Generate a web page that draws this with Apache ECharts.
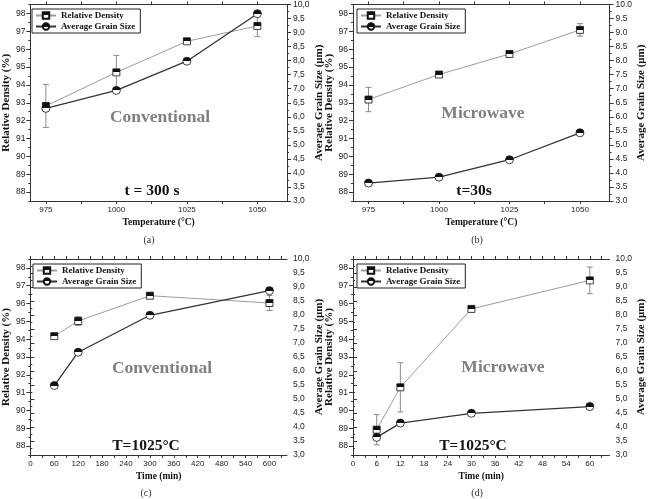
<!DOCTYPE html>
<html>
<head>
<meta charset="utf-8">
<script src="https://cdn.jsdelivr.net/npm/echarts@6/dist/echarts.min.js"></script>
<style>
  html, body { margin: 0; padding: 0; background: #fff; }
  #chart { width: 648px; height: 499px; }
</style>
</head>
<body>
<div id="chart"></div>
<script>
// (a) conventional, t = 300 s
const tempA = [975, 1000, 1025, 1050]
const densityA = [92.82, 94.7, 96.44, 97.3]
const densityErrA = [1.2, 0.95, 0.12, 0.6]
const grainA = [6.3, 6.94, 7.98, 9.67]

// (b) microwave, t = 30 s
const tempB = [975, 1000, 1025, 1050]
const densityB = [93.18, 94.58, 95.73, 97.08]
const densityErrB = [0.68, 0.08, 0.1, 0.35]
const grainB = [3.64, 3.85, 4.47, 5.43]

// (c) conventional, T = 1025 C
const timeC = [60, 120, 300, 600]
const densityC = [94.17, 95.02, 96.44, 96.03]
const densityErrC = [0.1, 0.25, 0.12, 0.42]
const grainC = [5.48, 6.67, 7.99, 8.87]

// (d) microwave, T = 1025 C
const timeD = [6, 12, 30, 60]
const densityD = [88.92, 91.3, 95.7, 97.3]
const densityErrD = [0.85, 1.38, 0.1, 0.75]
const grainD = [3.63, 4.14, 4.49, 4.73]

// tick labels
const tempTicks = [975, 1000, 1025, 1050]
const tempMinor = [987.5, 1012.5, 1037.5]
const timeTicksC = [0, 60, 120, 180, 240, 300, 360, 420, 480, 540, 600]
const timeMinorC = [30, 90, 150, 210, 270, 330, 390, 450, 510, 570, 630]
const timeTicksD = [0, 6, 12, 18, 24, 30, 36, 42, 48, 54, 60]
const timeMinorD = [3, 9, 15, 21, 27, 33, 39, 45, 51, 57, 63]
const densityTicks = [88, 89, 90, 91, 92, 93, 94, 95, 96, 97, 98]

const SERIF = '"Liberation Serif", "Times New Roman", serif'
const SANS = '"Liberation Sans", Arial, sans-serif'

const halfFill = {
  type: 'linear', x: 0, y: 0, x2: 0, y2: 1,
  colorStops: [
    { offset: 0, color: '#111' }, { offset: 0.5, color: '#111' },
    { offset: 0.5, color: '#fff' }, { offset: 1, color: '#fff' }
  ]
}

const panels = [
  { grid: { left: 28, right: 361, top: 4, height: 197 }, x: tempA, dens: densityA, err: densityErrA, grain: grainA,
    xmin: 969.5, xmax: 1060.5, ticks: tempTicks, minor: tempMinor, xname: 'Temperature (°C)', comma: true },
  { grid: { left: 353, right: 38, top: 4, height: 197 }, x: tempB, dens: densityB, err: densityErrB, grain: grainB,
    xmin: 969.5, xmax: 1060.5, ticks: tempTicks, minor: tempMinor, xname: 'Temperature (°C)', comma: false },
  { grid: { left: 29, right: 361, top: 259, height: 196 }, x: timeC, dens: densityC, err: densityErrC, grain: grainC,
    xmin: 0, xmax: 644, ticks: timeTicksC, minor: timeMinorC, xname: 'Time (min)', comma: true },
  { grid: { left: 353, right: 37, top: 259, height: 196 }, x: timeD, dens: densityD, err: densityErrD, grain: grainD,
    xmin: 0, xmax: 65, ticks: timeTicksD, minor: timeMinorD, xname: 'Time (min)', comma: true }
]

const axisLine = { show: true, lineStyle: { color: '#333', width: 1 } }

function errorBars(params, api) {
  const x = api.value(0)
  const y = api.value(1)
  const e = api.value(2)
  const top = api.coord([x, y + e])
  const bot = api.coord([x, y - e])
  const w = 3
  const style = { stroke: '#8a8a8a', lineWidth: 1 }
  return {
    type: 'group',
    children: [
      { type: 'line', shape: { x1: top[0], y1: top[1], x2: bot[0], y2: bot[1] }, style },
      { type: 'line', shape: { x1: top[0] - w, y1: top[1], x2: top[0] + w, y2: top[1] }, style },
      { type: 'line', shape: { x1: bot[0] - w, y1: bot[1], x2: bot[0] + w, y2: bot[1] }, style }
    ]
  }
}

const grids = []
const xAxes = []
const yAxes = []
const series = []
const legends = []

panels.forEach((p, i) => {
  grids.push(p.grid)
  const allTicks = p.ticks.concat(p.minor).filter(v => v >= p.xmin && v <= p.xmax)
  xAxes.push({
    type: 'value', gridIndex: i, position: 'bottom', min: p.xmin, max: p.xmax,
    axisLine, splitLine: { show: false },
    axisTick: { show: true, inside: false, length: 3, customValues: allTicks, lineStyle: { color: '#333' } },
    axisLabel: { customValues: p.ticks, formatter: v => String(v), fontSize: 8, fontFamily: SANS, color: '#222', margin: 5 },
    name: p.xname, nameLocation: 'middle', nameGap: 17,
    nameTextStyle: { fontFamily: SERIF, fontWeight: 'bold', fontSize: 9.5, color: '#111' }
  })
  xAxes.push({
    type: 'value', gridIndex: i, position: 'top', min: p.xmin, max: p.xmax,
    axisLine, splitLine: { show: false },
    axisTick: { show: true, inside: false, length: 3, customValues: allTicks, lineStyle: { color: '#333' } },
    axisLabel: { show: false }
  })
  yAxes.push({
    type: 'value', gridIndex: i, position: 'left', min: 87.5, max: 98.5, interval: 1,
    axisLine, splitLine: { show: false },
    axisTick: { show: true, inside: false, length: 2, lineStyle: { color: '#333' } },
    minorTick: { show: true, splitNumber: 2, length: 4, lineStyle: { color: '#333' } },
    axisLabel: { customValues: densityTicks, fontSize: 8.5, fontFamily: SANS, color: '#222', margin: 5 },
    name: 'Relative Density (%)', nameLocation: 'middle', nameGap: 17, nameRotate: 90,
    nameTextStyle: { fontFamily: SERIF, fontWeight: 'bold', fontSize: 11, color: '#111' }
  })
  yAxes.push({
    type: 'value', gridIndex: i, position: 'right', min: 3, max: 10, interval: 0.5,
    axisLine, splitLine: { show: false },
    axisTick: { show: true, inside: false, length: 4, lineStyle: { color: '#333' } },
    minorTick: { show: true, splitNumber: 2, length: 2, lineStyle: { color: '#333' } },
    axisLabel: {
      fontSize: 8.5, fontFamily: SANS, color: '#222', margin: 6,
      formatter: v => p.comma ? v.toFixed(1).replace('.', ',') : v.toFixed(1)
    },
    name: 'Average Grain Size (μm)', nameLocation: 'middle', nameGap: 22, nameRotate: 90,
    nameTextStyle: { fontFamily: SERIF, fontWeight: 'bold', fontSize: 11, color: '#111' }
  })

  series.push({
    type: 'custom', xAxisIndex: 2 * i, yAxisIndex: 2 * i,
    renderItem: errorBars, encode: { x: 0, y: 1 }, z: 1,
    data: p.x.map((v, k) => [v, p.dens[k], p.err[k]])
  })
  series.push({
    name: 'Relative Density', type: 'line', xAxisIndex: 2 * i, yAxisIndex: 2 * i,
    data: p.x.map((v, k) => [v, p.dens[k]]),
    symbol: 'rect', symbolSize: 7, z: 3,
    lineStyle: { color: '#9c9c9c', width: 1 },
    itemStyle: { color: halfFill, borderColor: '#111', borderWidth: 0.8 }
  })
  series.push({
    name: 'Average Grain Size', type: 'line', xAxisIndex: 2 * i, yAxisIndex: 2 * i + 1,
    data: p.x.map((v, k) => [v, p.grain[k]]),
    symbol: 'circle', symbolSize: 8, z: 4,
    lineStyle: { color: '#333', width: 1.3 },
    itemStyle: { color: halfFill, borderColor: '#111', borderWidth: 0.8 }
  })

  legends.push({
    left: p.grid.left + 4, top: p.grid.top + 5, orient: 'vertical',
    data: ['Relative Density', 'Average Grain Size'],
    itemWidth: 20, itemHeight: 8, itemGap: 2, padding: [2, 5, 2, 3],
    borderColor: '#222', borderWidth: 1, backgroundColor: '#fff',
    selectedMode: false,
    textStyle: { fontFamily: SERIF, fontWeight: 'bold', fontSize: 9, color: '#111' }
  })
})

function label(text, x, y, size, color, weight) {
  return {
    type: 'text', x, y, z: 10,
    style: {
      text, fill: color, font: weight + ' ' + size + 'px ' + SERIF,
      align: 'center', verticalAlign: 'middle', textAlign: 'center', textVerticalAlign: 'middle'
    }
  }
}

const chart = echarts.init(document.getElementById('chart'))
chart.setOption({
  animation: false,
  backgroundColor: '#fff',
  grid: grids,
  xAxis: xAxes,
  yAxis: yAxes,
  legend: legends,
  series,
  graphic: [
    label('Conventional', 160, 117, 17.5, '#808080', 'bold'),
    label('t = 300 s', 152, 191, 15.5, '#111', 'bold'),
    label('Microwave', 483, 113, 17.5, '#808080', 'bold'),
    label('t=30s', 474, 191, 15.5, '#111', 'bold'),
    label('Conventional', 162, 368, 17.5, '#808080', 'bold'),
    label('T=1025°C', 146, 446, 15.5, '#111', 'bold'),
    label('Microwave', 503, 367, 17.5, '#808080', 'bold'),
    label('T=1025°C', 473, 446, 15.5, '#111', 'bold'),
    label('(a)', 149, 240, 10, '#333', 'normal'),
    label('(b)', 477, 240, 10, '#333', 'normal'),
    label('(c)', 146, 493, 10, '#333', 'normal'),
    label('(d)', 477, 493, 10, '#333', 'normal')
  ]
})
</script>
</body>
</html>
